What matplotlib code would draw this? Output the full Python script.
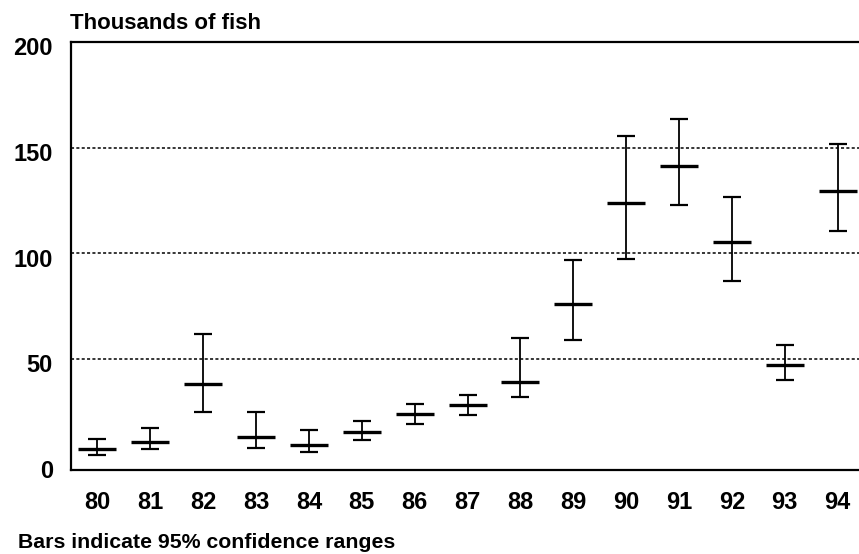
import matplotlib
matplotlib.use("Agg")
import matplotlib.pyplot as plt
from matplotlib.transforms import ScaledTranslation

# Estimated fish counts (thousands) with 95% confidence bounds
years = [80, 81, 82, 83, 84, 85, 86, 87, 88, 89, 90, 91, 92, 93, 94]
estimate = [7.4, 10.8, 38.5, 13.4, 9.7, 15.7, 24.0, 28.2, 39.2, 75.9, 123.9, 141.4, 105.3, 47.4, 129.7]
lower = [4.6, 7.4, 25.1, 8.0, 6.0, 12.0, 19.4, 23.5, 32.3, 59.2, 97.4, 123.1, 87.1, 40.2, 110.5]
upper = [12.5, 17.5, 62.0, 24.9, 16.6, 20.8, 29.1, 32.9, 60.0, 97.0, 155.4, 163.4, 126.8, 56.9, 151.6]
yticks = [0, 50, 100, 150, 200]

plt.rcParams["font.family"] = ["Liberation Sans", "DejaVu Sans"]

fig = plt.figure(figsize=(8.59, 5.54), dpi=100)
ax = fig.add_axes([71 / 859, 84 / 554, 793 / 859, 428.3 / 554])

err = [[e - lo for e, lo in zip(estimate, lower)],
       [hi - e for e, hi in zip(estimate, upper)]]
ax.errorbar(years, estimate, yerr=err, fmt="none", ecolor="black",
            elinewidth=1.3, capsize=6.5, capthick=1.6)
ax.plot(years, estimate, linestyle="none", marker="_", markersize=28,
        markeredgewidth=2.4, color="black")

ax.set_xlim(79.5, 94.5)
ax.set_ylim(-2.3, 200)
ax.set_xticks(years)
ax.set_xticklabels([str(y) for y in years])
ax.set_yticks(yticks)

for v in yticks[1:-1]:
    ax.axhline(v, color="black", linestyle=(0, (2, 1.5)), linewidth=1.1, zorder=0)

ax.spines["right"].set_visible(False)
for side in ("left", "top", "bottom"):
    ax.spines[side].set_linewidth(1.6)

ax.tick_params(axis="both", length=0, labelsize=17)
ax.tick_params(axis="x", pad=15)
ax.tick_params(axis="y", pad=13)
for lab in ax.get_xticklabels() + ax.get_yticklabels():
    lab.set_fontweight("bold")

# y labels sit a little below their gridlines
shift = ScaledTranslation(0, -3 / 72, fig.dpi_scale_trans)
for lab in ax.get_yticklabels():
    lab.set_transform(lab.get_transform() + shift)

fig.text(70 / 859, 525 / 554, "Thousands of fish", fontsize=16,
         fontweight="bold", ha="left", va="baseline")
fig.text(18 / 859, 6 / 554, "Bars indicate 95% confidence ranges",
         fontsize=15.3, fontweight="bold", ha="left", va="baseline")

fig.savefig("out.png", dpi=100)
